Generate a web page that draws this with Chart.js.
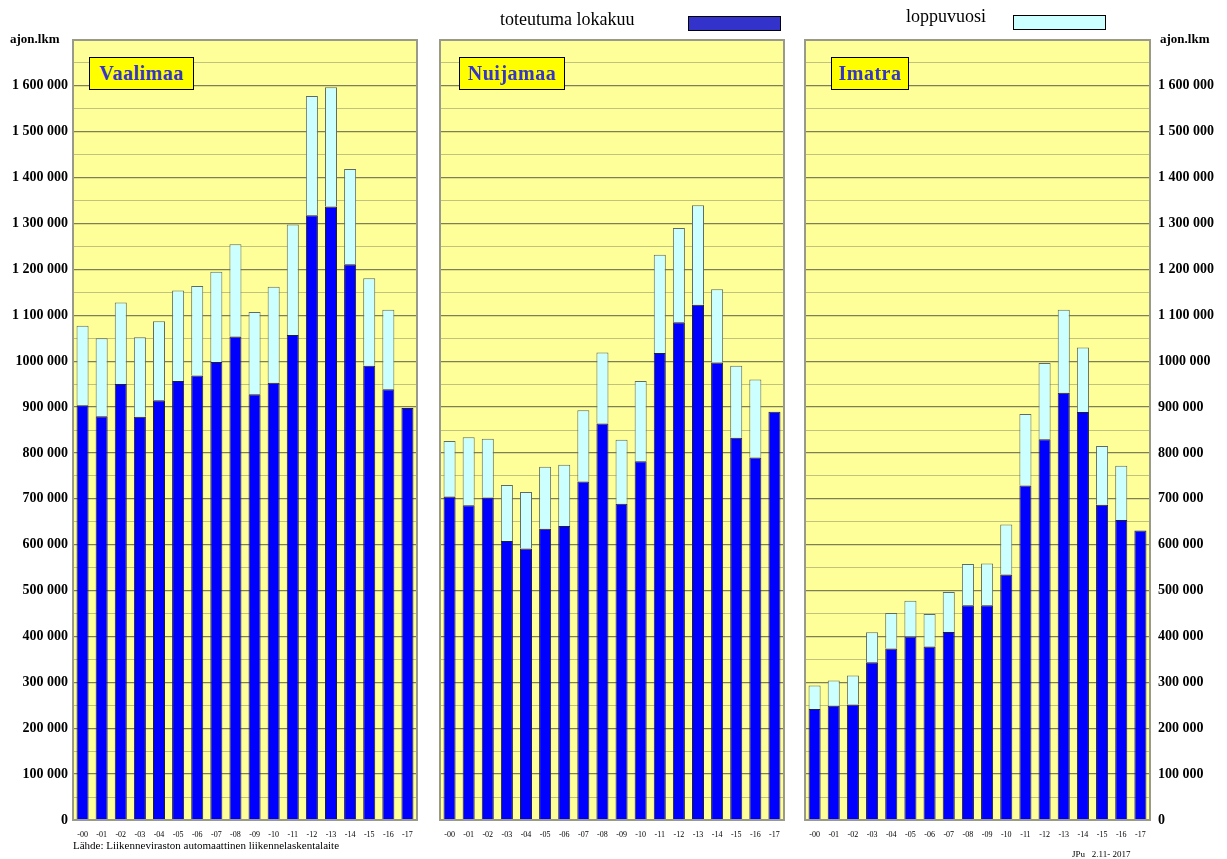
<!DOCTYPE html>
<html><head><meta charset="utf-8">
<script src="https://cdn.jsdelivr.net/npm/chart.js@4"></script>
<style>
body{margin:0;width:1227px;height:859px;background:#fff;position:relative;overflow:hidden;font-family:"Liberation Serif","Times New Roman",serif;}
canvas{position:absolute;top:0;}
.t{position:absolute;white-space:nowrap;color:#000;}
.ttl{position:absolute;top:57px;height:33px;background:#ffff00;border:1.5px solid #000;color:#3535c8;font-weight:bold;font-size:20px;line-height:31px;text-align:center;box-sizing:border-box;letter-spacing:0.5px;}
.sw{position:absolute;border:1px solid #000;box-sizing:border-box;}
</style></head><body>
<canvas id="c1" width="420" height="859" style="left:0;width:420px;height:859px"></canvas>
<canvas id="c2" width="380" height="859" style="left:420px;width:380px;height:859px"></canvas>
<canvas id="c3" width="427" height="859" style="left:800px;width:427px;height:859px"></canvas>

<div class="t" style="left:500px;top:9px;font-size:18px;">toteutuma lokakuu</div>
<div class="sw" style="left:688px;top:16px;width:93px;height:15px;background:#3333cc;"></div>
<div class="t" style="left:906px;top:6px;font-size:18px;">loppuvuosi</div>
<div class="sw" style="left:1013px;top:15px;width:93px;height:15px;background:#ccffff;"></div>

<div class="t" style="left:10px;top:31px;font-size:13px;font-weight:bold;">ajon.lkm</div>
<div class="t" style="left:1160px;top:31px;font-size:13px;font-weight:bold;">ajon.lkm</div>

<div class="ttl" style="left:89px;width:105px;">Vaalimaa</div>
<div class="ttl" style="left:459px;width:106px;">Nuijamaa</div>
<div class="ttl" style="left:831px;width:78px;">Imatra</div>

<div class="t" style="left:73px;top:839px;font-size:11px;">Lähde: Liikenneviraston automaattinen liikennelaskentalaite</div>
<div class="t" style="left:1072px;top:849px;font-size:9px;">JPu&nbsp;&nbsp;&nbsp;2.11- 2017</div>

<script>
const categories = ['-00','-01','-02','-03','-04','-05','-06','-07','-08','-09','-10','-11','-12','-13','-14','-15','-16','-17'];
const yTickLabels = ['0','100 000','200 000','300 000','400 000','500 000','600 000','700 000','800 000','900 000','1000 000','1 100 000','1 200 000','1 300 000','1 400 000','1 500 000','1 600 000'];

// toteutuma lokakuu (Jan–Oct actual) and loppuvuosi (rest of year)
const vaalimaaToteutuma = [904000,880000,950000,879000,915000,957000,969000,998000,1054000,928000,953000,1057000,1318000,1337000,1211000,990000,939000,898000];
const vaalimaaLoppuvuosi = [173000,170000,178000,173000,172000,197000,195000,197000,201000,179000,209000,241000,260000,260000,208000,191000,173000,null];
const nuijamaaToteutuma = [705000,686000,703000,608000,592000,635000,641000,738000,864000,689000,782000,1018000,1085000,1123000,997000,833000,790000,890000];
const nuijamaaLoppuvuosi = [121000,148000,128000,122000,123000,135000,133000,155000,155000,140000,175000,214000,205000,217000,160000,157000,170000,null];
const imatraToteutuma = [242000,249000,252000,344000,374000,400000,378000,410000,468000,468000,535000,729000,830000,931000,889000,687000,654000,631000];
const imatraLoppuvuosi = [51000,55000,63000,65000,77000,78000,71000,87000,90000,91000,109000,156000,166000,181000,141000,128000,118000,null];

const bgPlugin = {
  id:'bg',
  beforeDraw(chart){
    const a = chart.chartArea, c = chart.ctx;
    c.save(); c.fillStyle = '#ffff99'; c.fillRect(a.left,a.top,a.right-a.left,a.bottom-a.top); c.restore();
  },
  afterDraw(chart){
    const a = chart.chartArea, c = chart.ctx;
    c.save(); c.strokeStyle = '#9a9a8a'; c.lineWidth = 2;
    c.strokeRect(a.left,a.top,a.right-a.left,a.bottom-a.top); c.restore();
  }
};

function makeChart(id, tot, rest, side, axisWidth, padLeft, padRight){
  const showLabels = side !== 'none';
  return new Chart(document.getElementById(id), {
    type:'bar',
    data:{labels:categories, datasets:[
      {label:'toteutuma lokakuu', data:tot, backgroundColor:'#0000ff', borderColor:'#20203a', borderWidth:1, barPercentage:0.63, categoryPercentage:1},
      {label:'loppuvuosi', data:rest, backgroundColor:'#ccffff', borderColor:'#606a60', borderWidth:1, barPercentage:0.63, categoryPercentage:1}
    ]},
    options:{
      responsive:false, animation:false,
      layout:{padding:{top:40,bottom:0,left:padLeft,right:padRight}},
      plugins:{legend:{display:false}, tooltip:{enabled:false}},
      scales:{
        x:{stacked:true, grid:{display:false}, border:{display:false},
           ticks:{font:{family:'Liberation Serif', size:8}, color:'#000', padding:2, maxRotation:0, autoSkip:false},
           afterFit(s){ s.height = 39; }},
        y:{stacked:true, position: side==='right'?'right':'left', min:0, max:1700000,
           border:{display:false},
           grid:{drawTicks:false, color(ctx){ return ctx.tick && ctx.tick.value % 100000 === 0 ? 'rgba(95,95,70,0.8)' : 'rgba(120,120,95,0.45)'; }, lineWidth(ctx){ return ctx.tick && ctx.tick.value % 100000 === 0 ? 1.3 : 1; }},
           ticks:{display:showLabels, stepSize:50000, autoSkip:false, padding: side==='right'?8:5,
             font:{family:'Liberation Serif', size:14, weight:'bold'}, color:'#000',
             callback(v){ if (v % 100000 !== 0) return ''; const i = v/100000; return i < yTickLabels.length ? yTickLabels[i] : ''; }},
           afterFit(s){ s.width = axisWidth; }}
      }
    },
    plugins:[bgPlugin]
  });
}

makeChart('c1', vaalimaaToteutuma, vaalimaaLoppuvuosi, 'left', 73, 0, 3);
makeChart('c2', nuijamaaToteutuma, nuijamaaLoppuvuosi, 'none', 20, 0, 16);
makeChart('c3', imatraToteutuma, imatraLoppuvuosi, 'right', 77, 5, 0);
</script>
</body></html>
